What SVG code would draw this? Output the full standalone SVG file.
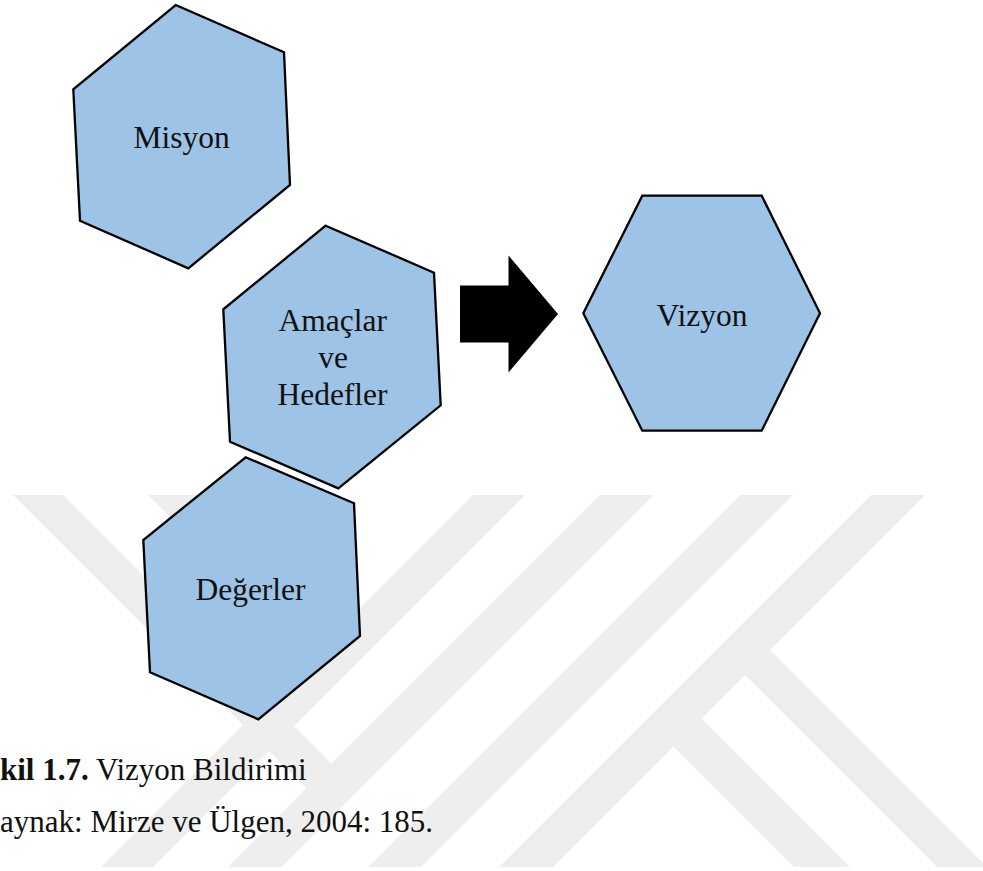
<svg xmlns="http://www.w3.org/2000/svg" width="983" height="871" viewBox="0 0 983 871">
  <style>
    .hex { fill: #9dc3e6; stroke: #000000; stroke-width: 2.3; stroke-linejoin: miter; }
    .lbl { font-family: "Liberation Serif", "Times New Roman", serif; font-size: 31.5px; fill: #111111; text-anchor: middle; }
    .cap { font-family: "Liberation Serif", "Times New Roman", serif; font-size: 31px; fill: #111111; }
    .wm { fill: #eeeeee; }
  </style>

  <rect x="0" y="0" width="983" height="871" fill="#ffffff"/>

  <!-- background logo: diagonal bands -->
  <g id="watermark">
    <polygon class="wm" points="473,495 525,495 153,867 101,867"/>
    <polygon class="wm" points="600,495 654,495 282,867 228,867"/>
    <polygon class="wm" points="740,495 793,495 421,867 368,867"/>
    <polygon class="wm" points="871,495 925,495 553,867 499,867"/>
    <polygon class="wm" points="13,495 63,495 344,776 319,801"/>
    <polygon class="wm" points="148,495 200,495 349.5,644.5 323.5,670.5"/>
    <polygon class="wm" points="756.5,636.5 987,867 937,867 731.5,661.5"/>
    <polygon class="wm" points="688,705 850,867 794,867 660,733"/>
  </g>

  <g id="connectors">
    <polygon points="460,285.5 508.5,285.5 508.5,255.5 558,314 508.5,372.5 508.5,342.5 460,342.5" fill="#000000"/>
  </g>

  <g id="misyon">
    <polygon class="hex" points="175.7,5 284,52.3 290,185 188.3,268.3 80,220.7 73.3,89.3"/>
    <text class="lbl" x="181.7" y="147.5">Misyon</text>
  </g>

  <g id="amaclar">
    <polygon class="hex" points="325.7,225.7 434,272.7 440.7,405.3 338.3,488.3 230,441.7 223.3,309.3"/>
    <text class="lbl" x="332.8" y="331">Amaçlar</text>
    <text class="lbl" x="333" y="368">ve</text>
    <text class="lbl" x="332.5" y="405">Hedefler</text>
  </g>

  <g id="degerler">
    <polygon class="hex" points="245.7,457.3 354,503.3 360,636 258.3,719.3 150,672.3 143.3,540"/>
    <text class="lbl" x="250.5" y="600">Değerler</text>
  </g>

  <g id="vizyon">
    <polygon class="hex" points="642.3,195.7 761.7,195.7 820,313.3 761.7,430.7 642.3,430.7 583.3,313.3"/>
    <text class="lbl" x="702" y="326">Vizyon</text>
  </g>

  <g id="caption">
    <text class="cap" x="0" y="780"><tspan font-weight="bold">kil 1.7.</tspan> Vizyon Bildirimi</text>
    <text class="cap" x="0" y="831.5">aynak: Mirze ve Ülgen, 2004: 185.</text>
  </g>
</svg>
